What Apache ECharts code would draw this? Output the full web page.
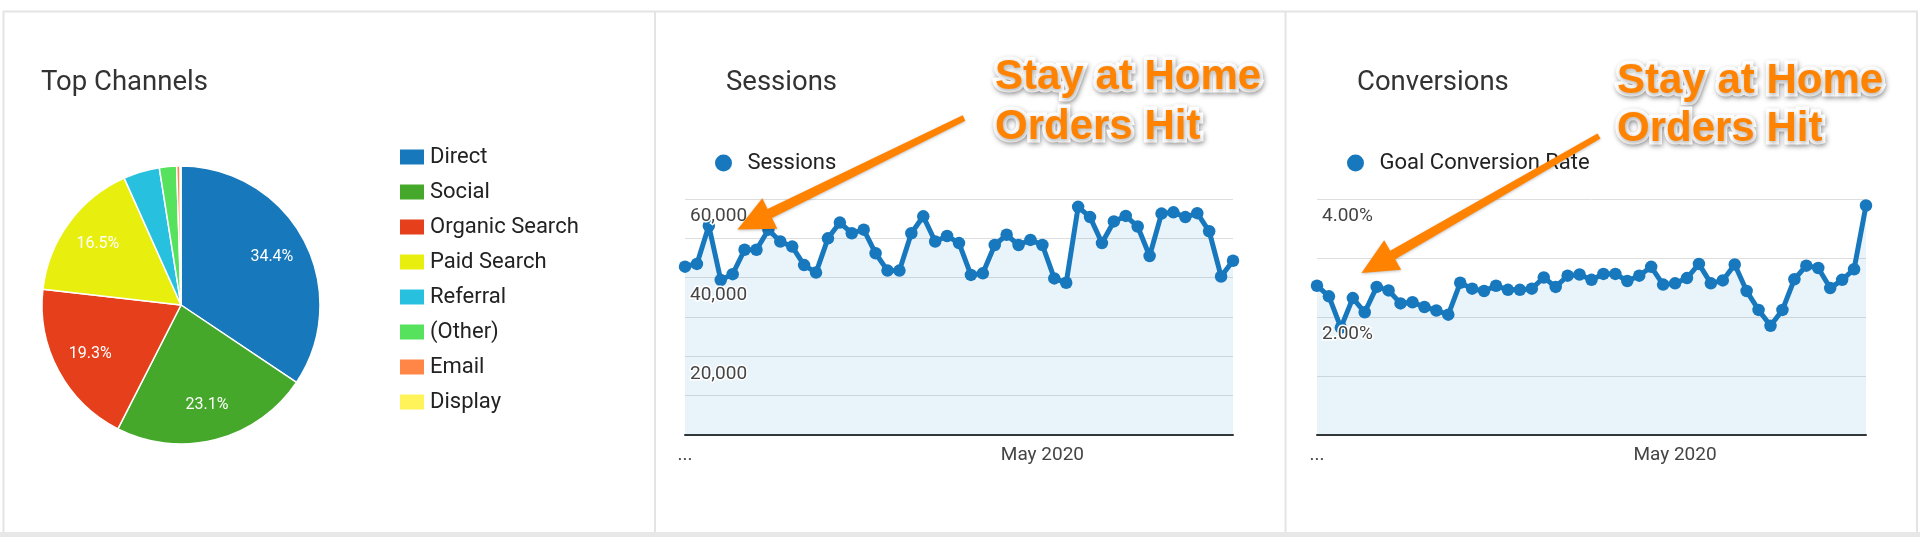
<!DOCTYPE html>
<html><head><meta charset="utf-8">
<script src="https://cdn.jsdelivr.net/npm/echarts@6/dist/echarts.min.js"></script>
<style>html,body{margin:0;padding:0;background:#fff}#c{width:1920px;height:537px}</style>
</head><body><div id="c"></div>
<script>
// ---- data ----
const channelNames = ['Direct','Social','Organic Search','Paid Search','Referral','(Other)','Email','Display'];
const channelShares = [34.4, 23.1, 19.3, 16.5, 4.2, 2.0, 0.4, 0.1];
const channelColors = ['#1878bc','#45a82a','#e5401b','#e8ef0e','#27c1df','#57e25e','#ff8646','#fff359'];

const dates = [
 '2020-04-01','2020-04-02','2020-04-03','2020-04-04','2020-04-05','2020-04-06','2020-04-07','2020-04-08','2020-04-09','2020-04-10',
 '2020-04-11','2020-04-12','2020-04-13','2020-04-14','2020-04-15','2020-04-16','2020-04-17','2020-04-18','2020-04-19','2020-04-20',
 '2020-04-21','2020-04-22','2020-04-23','2020-04-24','2020-04-25','2020-04-26','2020-04-27','2020-04-28','2020-04-29','2020-04-30',
 '2020-05-01','2020-05-02','2020-05-03','2020-05-04','2020-05-05','2020-05-06','2020-05-07','2020-05-08','2020-05-09','2020-05-10',
 '2020-05-11','2020-05-12','2020-05-13','2020-05-14','2020-05-15','2020-05-16','2020-05-17'
];
const sessions = [42800, 43500, 53200, 39400, 40900, 47100, 47100, 52200, 49200, 47900, 43200, 41300,
  50000, 54000, 51300, 52200, 46200, 41800, 41800, 51300, 55600, 49200, 50600, 48800,
  40700, 41100, 48300, 50900, 48300, 49600, 48300, 39800, 38700, 58000, 55400, 48800,
  54300, 55700, 53000, 45500, 56300, 56600, 55400, 56400, 51800, 40300, 44300];
const conversionRate = [2.53, 2.35, 1.82, 2.32, 2.08, 2.51, 2.45, 2.23, 2.25, 2.17, 2.11, 2.04,
  2.58, 2.48, 2.44, 2.53, 2.46, 2.46, 2.48, 2.67, 2.51, 2.70, 2.72, 2.63,
  2.73, 2.73, 2.61, 2.70, 2.85, 2.55, 2.57, 2.66, 2.90, 2.57, 2.62, 2.89,
  2.44, 2.12, 1.85, 2.12, 2.64, 2.87, 2.83, 2.49, 2.63, 2.81, 3.89];
const sessionTicks = [20000, 40000, 60000];
const rateTicks = [2, 4];
const xLabelDates = ['2020-05-01'];
const annotationText = 'Stay at Home\nOrders Hit';

// ---- styling ----
const FONT = 'Roboto';
const lineBlue = '#1878bd';
const orange = '#ff8300';

function arrowPoints(tail, tip, wTail, wHead, headLen, headHalf) {
  const dx = tip[0]-tail[0], dy = tip[1]-tail[1];
  const L = Math.hypot(dx, dy), ux = dx/L, uy = dy/L, nx = -uy, ny = ux;
  const bx = tip[0]-ux*headLen, by = tip[1]-uy*headLen;
  return [
    [tail[0]+nx*wTail/2, tail[1]+ny*wTail/2],
    [bx+nx*wHead/2, by+ny*wHead/2],
    [bx+nx*headHalf, by+ny*headHalf],
    tip,
    [bx-nx*headHalf, by-ny*headHalf],
    [bx-nx*wHead/2, by-ny*wHead/2],
    [tail[0]-nx*wTail/2, tail[1]-ny*wTail/2]
  ];
}

const pieData = channelNames.map((n, i) => ({name: n, value: channelShares[i], itemStyle: {color: channelColors[i]}}));

function xAxisFor(gridIndex) {
  return {
    type: 'category', gridIndex, data: dates, boundaryGap: false,
    axisLine: {lineStyle: {color: '#333', width: 2}},
    axisTick: {show: false},
    splitLine: {show: false},
    axisLabel: {
      interval: (idx, val) => idx === 0 || xLabelDates.includes(val),
      formatter: (val, idx) => idx === 0 ? '...' : 'May 2020',
      fontFamily: FONT, fontSize: 19, color: '#444', margin: 11
    }
  };
}
function yAxesFor(gridIndex, max, interval, fmt) {
  return [
    {type: 'value', gridIndex, min: 0, max, interval, position: 'left',
     axisLine: {show: false}, axisTick: {show: false}, axisLabel: {show: false},
     splitLine: {lineStyle: {color: '#dedede', width: 1}}},
    {type: 'value', gridIndex, min: 0, max, interval, position: 'left', z: 10,
     axisLine: {show: false}, axisTick: {show: false}, splitLine: {show: false},
     axisLabel: {inside: true, margin: 5, verticalAlign: 'top', padding: [8,0,0,0],
       fontFamily: FONT, fontSize: 19, color: '#444', lineHeight: 19,
       textBorderColor: '#fff', textBorderWidth: 3, formatter: fmt}}
  ];
}
function lineSeries(name, data, xi, yi) {
  return {
    type: 'line', name, data, xAxisIndex: xi, yAxisIndex: yi,
    symbol: 'circle', symbolSize: 12.5, showSymbol: true, showAllSymbol: true,
    lineStyle: {color: lineBlue, width: 5},
    itemStyle: {color: lineBlue, borderWidth: 0},
    areaStyle: {color: 'rgba(10,120,200,0.13)'},
    emphasis: {disabled: true}, animation: false
  };
}
function annotation(x, y, lh) {
  return {
    type: 'text', x, y, z: 100,
    style: {
      text: annotationText, fill: orange, stroke: '#fff', lineWidth: 7, strokeFirst: true,
      fontFamily: 'Liberation Sans', fontWeight: 'bold', fontSize: 42, lineHeight: lh,
      align: 'left', verticalAlign: 'top',
      textShadowColor: 'rgba(0,0,0,0.35)', textShadowBlur: 5, textShadowOffsetX: 1, textShadowOffsetY: 2
    }
  };
}
function arrow(tail, tip) {
  return {
    type: 'polygon', z: 99,
    shape: {points: arrowPoints(tail, tip, 6, 10, 36, 17)},
    style: {fill: orange, shadowColor: 'rgba(0,0,0,0.25)', shadowBlur: 3, shadowOffsetY: 1}
  };
}
function vline(x) {
  return {type: 'line', z: 0, shape: {x1: x, y1: 11, x2: x, y2: 532}, style: {stroke: '#e4e4e4', lineWidth: 2}};
}

const chart = echarts.init(document.getElementById('c'), null, {renderer: 'canvas'});
chart.setOption({
  animation: false,
  backgroundColor: '#fff',
  title: [
    {text: 'Top Channels', left: 41, top: 68, padding: 0, textStyle: {fontFamily: FONT, fontSize: 27.5, fontWeight: 'normal', color: '#333', lineHeight: 30}},
    {text: 'Sessions', left: 726, top: 68, padding: 0, textStyle: {fontFamily: FONT, fontSize: 27.5, fontWeight: 'normal', color: '#333', lineHeight: 30}},
    {text: 'Conversions', left: 1357, top: 68, padding: 0, textStyle: {fontFamily: FONT, fontSize: 27.5, fontWeight: 'normal', color: '#333', lineHeight: 30}}
  ],
  legend: [
    {seriesIndex: 0, data: channelNames, orient: 'vertical', left: 398, top: 146, padding: 0,
     icon: 'rect', itemWidth: 26, itemHeight: 17, itemGap: 13, symbolKeepAspect: true, selectedMode: false,
     textStyle: {fontFamily: FONT, fontSize: 22, color: '#222', lineHeight: 22}},
    {data: ['Sessions'], left: 715, top: 152, padding: 0, icon: 'circle', itemWidth: 38, itemHeight: 17,
     symbolKeepAspect: true, selectedMode: false,
     textStyle: {fontFamily: FONT, fontSize: 22, color: '#222', lineHeight: 17}},
    {data: ['Goal Conversion Rate'], left: 1347, top: 152, padding: 0, icon: 'circle', itemWidth: 38, itemHeight: 17,
     symbolKeepAspect: true, selectedMode: false,
     textStyle: {fontFamily: FONT, fontSize: 22, color: '#222', lineHeight: 17}}
  ],
  grid: [
    {left: 685, top: 199, width: 548, height: 236},
    {left: 1317, top: 199, width: 549, height: 236}
  ],
  xAxis: [xAxisFor(0), xAxisFor(1)],
  yAxis: [
    ...yAxesFor(0, 60000, 10000, v => sessionTicks.includes(v) ? v.toLocaleString('en-US') : ''),
    ...yAxesFor(1, 4, 1, v => rateTicks.includes(v) ? v.toFixed(2) + '%' : '')
  ],
  series: [
    {type: 'pie', name: 'Top Channels', center: [181, 305], radius: 139, startAngle: 90, clockwise: true,
     data: pieData, label: {show: false}, labelLine: {show: false},
     itemStyle: {borderColor: '#fff', borderWidth: 1.5}, emphasis: {disabled: true}, animation: false},
    {type: 'pie', name: 'labels', center: [181, 305], radius: [61, 139], startAngle: 90, clockwise: true,
     data: channelNames.map((n, i) => ({name: n, value: channelShares[i]})), silent: true,
     itemStyle: {color: 'rgba(0,0,0,0)'}, labelLine: {show: false}, avoidLabelOverlap: false,
     label: {show: true, position: 'inside', color: '#fff', fontFamily: FONT, fontSize: 16,
       formatter: p => p.value >= 5 ? p.value.toFixed(1) + '%' : ''},
     emphasis: {disabled: true}, animation: false},
    lineSeries('Sessions', sessions, 0, 0),
    lineSeries('Goal Conversion Rate', conversionRate, 1, 2)
  ],
  graphic: [
    {type: 'rect', z: 0, shape: {x: 0, y: 532, width: 1920, height: 5}, style: {fill: '#e8e8e8'}},
    {type: 'line', z: 0, shape: {x1: 3, y1: 11.5, x2: 1918, y2: 11.5}, style: {stroke: '#e4e4e4', lineWidth: 2}},
    vline(3.5), vline(655), vline(1285.5), vline(1917),
    arrow([964, 118], [737.5, 229.5]),
    arrow([1599, 136], [1361.5, 273]),
    annotation(995, 52.5, 50),
    annotation(1617, 57, 48)
  ]
});
</script></body></html>
